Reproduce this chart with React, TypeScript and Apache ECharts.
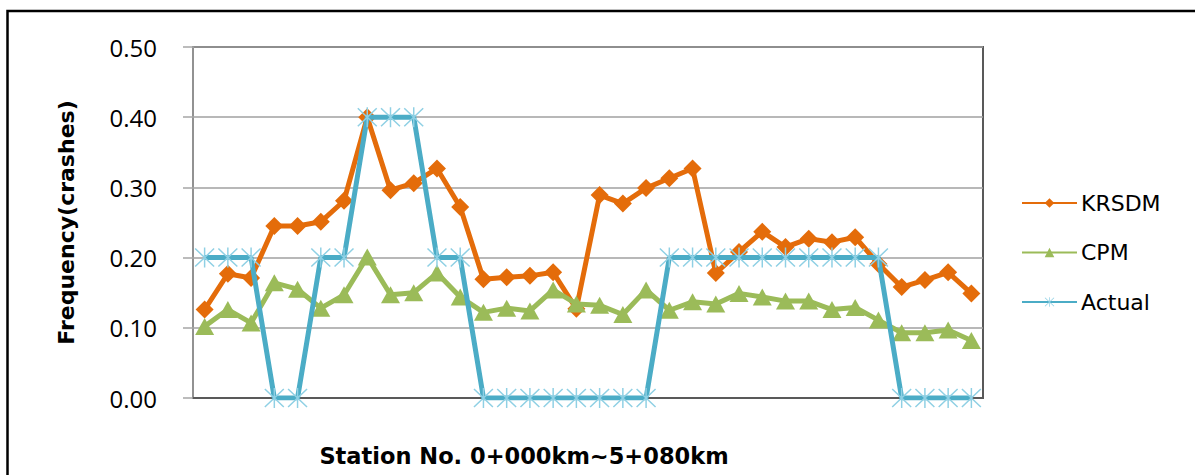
import React, { useEffect, useRef } from "react";
import * as echarts from "echarts";

const categories: string[] = Array.from({ length: 34 }, (_, i) => String(i + 1));
const krsdm: number[] = [
  0.126, 0.177, 0.171, 0.245, 0.245, 0.251, 0.281, 0.4, 0.296, 0.306, 0.327, 0.272,
  0.169, 0.172, 0.174, 0.179, 0.127, 0.289, 0.277, 0.299, 0.313, 0.327, 0.178,
  0.208, 0.237, 0.215, 0.227, 0.222, 0.229, 0.191, 0.158, 0.168, 0.179, 0.149,
];
const cpm: number[] = [
  0.102, 0.126, 0.107, 0.164, 0.155, 0.128, 0.147, 0.201, 0.147, 0.15, 0.178, 0.144,
  0.122, 0.128, 0.124, 0.154, 0.134, 0.132, 0.119, 0.154, 0.125, 0.137, 0.134,
  0.149, 0.144, 0.138, 0.138, 0.126, 0.129, 0.111, 0.093, 0.093, 0.097, 0.082,
];
const actual: number[] = [
  0.2, 0.2, 0.2, 0, 0, 0.2, 0.2, 0.4, 0.4, 0.4, 0.2, 0.2,
  0, 0, 0, 0, 0, 0, 0, 0, 0.2, 0.2, 0.2,
  0.2, 0.2, 0.2, 0.2, 0.2, 0.2, 0.2, 0, 0, 0, 0,
];
const yTicks: number[] = [0, 0.1, 0.2, 0.3, 0.4, 0.5];

const FONT = "'Open Sans', 'Noto Sans', sans-serif";
const WIDE = "'DejaVu Sans', 'Open Sans', sans-serif";
const STAR =
  "path://M9.3,0L10.7,0L10.7,20L9.3,20Z" +
  "M1.5,0.5L19.5,18.5L18.5,19.5L0.5,1.5Z" +
  "M19.5,1.5L1.5,19.5L0.5,18.5L18.5,0.5Z";

export default function App() {
  const ref = useRef<HTMLDivElement>(null);
  useEffect(() => {
    if (!ref.current) return;
    const chart = echarts.init(ref.current, undefined, { renderer: "svg" });
    chart.setOption({
      animation: false,
      backgroundColor: "#ffffff",
      textStyle: { fontFamily: FONT },
      grid: {
        left: 193,
        right: 212,
        top: 47,
        bottom: 77,
        show: true,
        borderColor: "#595959",
        borderWidth: 2,
        backgroundColor: "transparent",
      },
      legend: {
        orient: "vertical",
        left: 1016,
        top: 187,
        itemWidth: 55,
        itemHeight: 12,
        itemGap: 27.5,
        textStyle: { fontSize: 22, color: "#000", fontFamily: WIDE, padding: [0, 0, 0, -1] },
        data: ["KRSDM", "CPM", "Actual"],
      },
      xAxis: {
        type: "category",
        data: categories,
        boundaryGap: true,
        axisLine: { lineStyle: { color: "#595959", width: 2 } },
        axisTick: { show: false },
        axisLabel: { show: false },
        splitLine: { show: false },
      },
      yAxis: {
        type: "value",
        min: yTicks[0],
        max: yTicks[yTicks.length - 1],
        interval: 0.1,
        name: "Frequency(crashes)",
        nameLocation: "middle",
        nameGap: 116,
        nameTextStyle: { fontSize: 22, fontWeight: "bold", color: "#000", fontFamily: WIDE },
        axisLine: { show: true, lineStyle: { color: "#a6a6a6", width: 1.5 } },
        axisTick: { show: true, length: 10, inside: false, lineStyle: { color: "#a6a6a6", width: 1.5 } },
        axisLabel: {
          margin: 36,
          fontSize: 24,
          color: "#000",
          fontFamily: FONT,
          formatter: (v: number) => v.toFixed(2),
        },
        splitLine: { lineStyle: { color: "#a0a0a0", width: 1.5 } },
      },
      graphic: [
        {
          type: "rect",
          shape: { x: 7.5, y: 11, width: 1400, height: 700 },
          style: { fill: "none", stroke: "#000", lineWidth: 2.5 },
          silent: true,
          z: 100,
        },
        {
          type: "text",
          x: 524,
          y: 456,
          style: {
            text: "Station No. 0+000km~5+080km",
            fontSize: 22.5,
            fontWeight: "bold",
            fill: "#000",
            fontFamily: WIDE,
            align: "center",
            verticalAlign: "middle",
          },
        },
      ],
      series: [
        {
          name: "KRSDM",
          type: "line",
          data: krsdm,
          symbol: "diamond",
          symbolSize: 18,
          showAllSymbol: true,
          color: "#E46C0A",
          itemStyle: { color: "#E46C0A" },
          lineStyle: { color: "#E46C0A", width: 5 },
          z: 2,
        },
        {
          name: "CPM",
          type: "line",
          data: cpm,
          symbol: "triangle",
          symbolSize: [19, 17],
          showAllSymbol: true,
          color: "#9BBB59",
          itemStyle: { color: "#9BBB59" },
          lineStyle: { color: "#9BBB59", width: 5 },
          z: 3,
        },
        {
          name: "Actual",
          type: "line",
          data: actual,
          symbol: STAR,
          symbolSize: 20,
          showAllSymbol: true,
          color: "#4BACC6",
          itemStyle: { color: "#8fd0e4" },
          lineStyle: { color: "#4BACC6", width: 5 },
          z: 4,
        },
      ],
    });
    return () => chart.dispose();
  }, []);
  return (
    <div
      ref={ref}
      style={{ position: "absolute", left: 0, top: 0, width: 1195, height: 475 }}
    />
  );
}
